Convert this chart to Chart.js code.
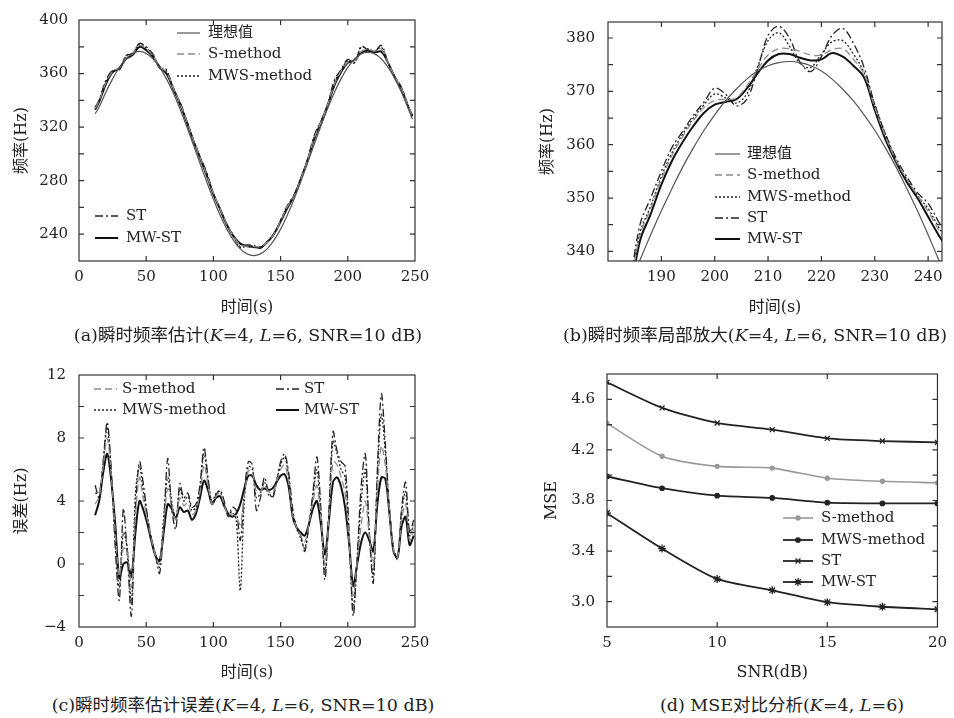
<!DOCTYPE html>
<html>
<head>
<meta charset="utf-8">
<script src="https://cdn.jsdelivr.net/npm/chart.js@4.4.1/dist/chart.umd.min.js"></script>
<style>
  body { margin: 0; background: #fff; width: 954px; height: 718px; position: relative; overflow: hidden;
         font-family: 'DejaVu Serif', 'Noto Sans CJK SC', serif; color: #222; }
  .panel { position: absolute; }
  .panel canvas { display: block; }
  .cap { position: absolute; font-size: 17.5px; white-space: nowrap; transform: translate(-50%, -50%); }
</style>
</head>
<body>
<div class="panel" style="left:0;top:0"><canvas id="cA" width="477" height="320"></canvas></div>
<div class="panel" style="left:477px;top:0"><canvas id="cB" width="477" height="320"></canvas></div>
<div class="panel" style="left:0;top:340px"><canvas id="cC" width="477" height="345"></canvas></div>
<div class="panel" style="left:477px;top:340px"><canvas id="cD" width="477" height="345"></canvas></div>

<div class="cap" style="left:248px;top:333px">(a)瞬时频率估计(<i>K</i>=4, <i>L</i>=6, SNR=10 dB)</div>
<div class="cap" style="left:755px;top:333px">(b)瞬时频率局部放大(<i>K</i>=4, <i>L</i>=6, SNR=10 dB)</div>
<div class="cap" style="left:243px;top:703px">(c)瞬时频率估计误差(<i>K</i>=4, <i>L</i>=6, SNR=10 dB)</div>
<div class="cap" style="left:782px;top:703px">(d) MSE对比分析(<i>K</i>=4, <i>L</i>=6)</div>

<script>
// ---- (a) 瞬时频率估计 ----
const tA = [12,15,20,25,30,35,40,45,50,55,60,65,70,75,80,85,90,95,100,105,110,115,120,125,130,135,140,145,150,155,160,165,170,175,180,185,190,195,200,205,210,215,220,225,230,235,240,245,248];
const idealA = [330,335,346,356,364.5,371,375,376.5,375,371, 364.6,356.2,345.8,333.9,320.8,307,293,279.2,266.1,254.2, 243.8,235.4,229.1,225.3,224,225.3,229.1,235.4,243.8,254.2, 266.1,279.2,293,307,320.8,333.9,345.8,356.2,364.6,370.9, 374.7,375.8,374.7,370.9,364.6,356.2,345.8,333.9,326];
const sA = [334,339.5,353,361.5,364.5,371.5,375,381,378.5,373, 365,361,349.5,338,325,310.5,297.5,284.5,270.5,259, 247.5,238.6,232,231,231,230.5,234,240,250,260.5, 268.5,281,295.3,311.9,323.6,336.5,352,362,368.5,369.5, 376.5,378,376.8,378,368,357.5,348.5,335.5,328];
const mwsA = [334.5,340,354,362,363,373,375.5,382,379,374, 364.4,362,350,338.5,325,311,298,285.5,270,259, 247.6,238.7,230,231.5,231,230.8,234.5,239.7,250.5,261, 269,281,295.5,312.5,324,337,353.5,362.5,369.5,368, 379.5,378.5,377,379.5,368,357.5,349,335.5,328.5];
const stA = [335,340,355,362.5,362.5,373.5,375,382.5,380,374.5, 364,363,348,339,325.3,310.8,298,286.5,270,258.9, 247.5,239,230.6,232,231.5,229.5,234.6,239.6,250.3,261.2, 269.6,281,295.5,313.8,324.3,337,355,363,370.6,368, 380.5,377.5,376.5,381,368,358,349.5,336,329];
const mwstA = [333,339,352,361,364,371,374,380,377.5,372.5, 365,360,349,337.5,324.3,310,297,284,270,258.5, 247,238.4,233,231,230.5,230,233.9,240.2,249.4,259.5, 268.5,281.3,295,311,323.3,336,351.2,361.1,368,370, 375.8,377,376,376.3,368,357,348,335,328];

// ---- (b) 局部放大 ----
const tB = [184,186,188,190,192,194,196,198,200,202,204,206,208,210,212,214,216,218,220,222,224,226,228,230,232,234,236,238,240,242,243];
const idealB = [333.5,338.4,343.1,347.6,351.8,355.8,359.4,362.7,365.6,368.2,370.4,372.3,373.8,374.8,375.4,375.6,375.4,374.8,373.8,372.3,370.4,368.2,365.6,362.7,359.4,355.8,351.8,347.6,343.1,338.4,336.0];
const sB = [332,343,348,353.5,358,361.5,364.5,367,368.3,368.5,368.7,371,374,376.8,378,378,377.5,376.8,376.8,377.8,378,376,373.2,367,361.5,357,353.5,350.5,347.5,344,342.5];
const mwsB = [332,343.5,348.5,354,358.5,362,365,367.5,369.5,368.8,367.8,369.5,374.5,379.5,381,378.5,375.2,374.5,377,379.3,379.5,377,373.5,367.5,362,357,353.5,350.5,348,344.5,343];
const stB = [333,345,350,355,359.5,362.5,365.5,368,370.6,369.5,367.3,368.5,374,380.5,382.2,380,375.5,373.7,376.5,380.5,381.8,379,374.5,367.5,362,357.5,354,351,349,345.5,344];
const mwstB = [331,342,347,352.5,357,360.5,363.5,366,367.5,368,368.5,370.5,373.3,375.8,377,377,376.3,375.8,376,377.2,376.5,374.8,372.6,366.5,361,356.7,353,350,346.5,343,341.5];

// ---- (c) 误差 ----
const tC = [12,15,18,21,24,27,30,33,36,39,42,45,48,51,54,57,60,63,66,69,72,75,78,81,84,87,90,93,96,99,102,105,108,111,114,117,120,123,126,129,132,135,138,141,144,147,150,153,156,159,162,165,168,171,174,177,180,183,186,189,192,195,198,201,204,207,210,213,216,219,222,225,228,231,234,237,240,243,246,249];
const sC = [3.8,4.3,6.2,8.0,5.6,2.0,-0.8,1.0,0.8,-1.5, 3.0,5.5,4.0,2.8,1.5,0.5,0.0,2.5,4.8,3.8, 2.8,4.2,3.7,3.9,3.1,3.4,4.5,6.3,5.0,3.8, 4.3,4.5,3.8,3.1,3.2,3.0,2.5,4.3,5.9,5.8, 4.6,4.6,5.0,4.6,4.5,5.2,6.0,6.3,5.2,3.1, 2.3,1.8,1.4,2.5,3.9,5.0,2.8,0.0,3.0,6.5, 6.3,5.5,4.5,1.4,-2.0,0.2,2.5,4.0,1.8,0.0, 4.6,7.5,6.2,3.3,0.9,0.4,2.8,3.8,1.5,2.2];
const mwsC = [4.5,4.5,6.5,8.7,5.8,1.5,-1.5,2.0,1.0,-2.5, 4.5,6.2,4.5,3.0,1.6,0.6,-0.2,3.0,5.5,4.0, 2.8,4.8,4.0,4.3,3.4,3.6,4.8,7.0,5.3,3.9, 4.5,4.6,3.8,3.2,3.3,2.8,-1.7,4.0,6.2,6.0, 4.2,4.5,5.2,4.4,4.3,5.3,6.3,6.8,5.5,3.2, 2.4,1.6,1.0,2.4,4.2,6.0,3.0,-0.5,3.2,7.8, 7.0,6.0,5.5,1.5,-2.8,0.3,4.0,6.0,2.0,-0.8, 5.5,9.5,7.0,3.4,0.9,0.4,3.2,4.6,1.8,2.5];
const stC = [5.0,4.2,6.5,9.0,6.0,1.0,-2.3,3.5,0.5,-3.3, 3.5,6.5,5.0,3.0,1.5,0.5,-0.6,2.5,6.7,3.5, 2.2,5.1,4.2,4.5,3.6,3.8,5.0,7.4,5.5,3.8, 4.4,4.7,4.0,3.0,3.6,3.4,1.5,4.5,6.5,6.3, 3.4,4.2,5.5,4.6,4.2,5.2,6.5,7.0,5.8,3.5, 2.2,1.8,0.8,2.5,4.5,6.8,3.5,-1.0,3.5,8.4, 7.2,6.5,6.2,2.0,-3.3,0.5,5.0,7.0,2.0,-1.2, 6.0,10.8,7.5,3.5,1.0,0.3,3.5,5.2,2.0,2.8];
const mwstC = [3.1,4.0,5.8,7.0,5.3,2.5,-0.9,0.0,0.1,-0.8, 2.0,4.0,3.4,2.5,1.4,0.5,0.2,2.0,3.8,3.5, 2.9,3.6,3.3,3.4,2.8,3.2,4.2,5.3,4.7,3.8, 4.2,4.3,3.7,3.2,3.0,3.2,3.8,4.8,5.6,5.6, 5.0,4.7,4.8,4.7,4.8,5.2,5.6,5.7,4.9,3.0, 2.3,2.0,1.8,2.5,3.5,4.0,2.5,0.6,2.8,5.2, 5.5,4.9,3.6,1.3,-1.4,0.0,1.4,2.0,1.5,0.8, 3.8,5.5,5.4,3.2,0.8,0.4,2.4,3.0,1.2,1.8];

// ---- (d) MSE ----
const snr = [5, 7.5, 10, 12.5, 15, 17.5, 20];
const sMse = [4.41, 4.15, 4.07, 4.056, 3.976, 3.952, 3.94];
const mwsMse = [3.99, 3.897, 3.838, 3.82, 3.783, 3.777, 3.777];
const stMse = [4.734, 4.532, 4.413, 4.36, 4.291, 4.27, 4.26];
const mwstMse = [3.70, 3.42, 3.18, 3.09, 2.996, 2.96, 2.94];

const FONT = "'DejaVu Serif', 'Noto Sans CJK SC', serif";
Chart.defaults.font.family = FONT;
Chart.defaults.color = '#222';
Chart.defaults.animation = false;

function pts(xs, ys) { return xs.map((x, i) => ({ x: x, y: ys[i] })); }
function isMult(v, m) { const r = v / m; return Math.abs(r - Math.round(r)) < 1e-6; }

// estilos de línea
const sty = {
  ideal: { borderColor: '#555', borderWidth: 1.2 },
  s:     { borderColor: '#8c8c8c', borderWidth: 1.3, borderDash: [7, 4] },
  mws:   { borderColor: '#222', borderWidth: 1.3, borderDash: [2, 2] },
  st:    { borderColor: '#222', borderWidth: 1.3, borderDash: [8, 3, 2, 3] },
  mwst:  { borderColor: '#111', borderWidth: 2 }
};

function ds(label, xs, ys, style, extra) {
  return Object.assign({ label: label, data: pts(xs, ys), pointRadius: 0, tension: 0.35, fill: false }, style, extra || {});
}

// marco + marcas de escala hacia dentro
const frame = {
  id: 'frame',
  afterDraw(chart) {
    const { ctx, chartArea: a } = chart;
    const len = 5;
    ctx.save();
    ctx.strokeStyle = '#333';
    ctx.lineWidth = 1.2;
    ctx.setLineDash([]);
    ctx.strokeRect(a.left, a.top, a.right - a.left, a.bottom - a.top);
    ['x', 'y'].forEach(id => {
      const s = chart.scales[id];
      const step = s.options.ticks.stepSize;
      s.ticks.forEach(t => {
        if (!isMult(t.value, step)) return;
        const p = s.getPixelForValue(t.value);
        ctx.beginPath();
        if (id === 'x') {
          if (p <= a.left + 1 || p >= a.right - 1) return;
          ctx.moveTo(p, a.bottom); ctx.lineTo(p, a.bottom - len);
          ctx.moveTo(p, a.top); ctx.lineTo(p, a.top + len);
        } else {
          if (p <= a.top + 1 || p >= a.bottom - 1) return;
          ctx.moveTo(a.left, p); ctx.lineTo(a.left + len, p);
          ctx.moveTo(a.right, p); ctx.lineTo(a.right - len, p);
        }
        ctx.stroke();
      });
    });
    ctx.restore();
  }
};

// leyenda dentro del área del gráfico
const insideLegend = {
  id: 'insideLegend',
  afterDraw(chart, args, opts) {
    if (!opts || !opts.items) return;
    const ctx = chart.ctx;
    ctx.save();
    opts.items.forEach(it => {
      const d = chart.data.datasets[it.i];
      ctx.strokeStyle = d.borderColor;
      ctx.lineWidth = d.borderWidth;
      ctx.setLineDash(d.borderDash || []);
      ctx.beginPath();
      ctx.moveTo(it.x, it.y);
      ctx.lineTo(it.x + opts.len, it.y);
      ctx.stroke();
      ctx.setLineDash([]);
      if (opts.points && d.pointStyle && Chart.helpers && Chart.helpers.drawPoint) {
        ctx.fillStyle = d.pointBackgroundColor || d.borderColor;
        ctx.strokeStyle = d.pointBorderColor || d.borderColor;
        ctx.lineWidth = 1.3;
        Chart.helpers.drawPoint(ctx, { pointStyle: d.pointStyle, radius: d.pointRadius, rotation: 0, borderWidth: 1.3 },
          it.x + opts.len / 2, it.y);
      }
      ctx.fillStyle = '#222';
      ctx.font = opts.font;
      ctx.textBaseline = 'middle';
      ctx.textAlign = 'left';
      ctx.fillText(d.label, it.x + opts.len + opts.gap, it.y);
    });
    ctx.restore();
  }
};
Chart.register(frame, insideLegend);

function xAxis(min, max, step, cb, height, title) {
  return {
    type: 'linear', min: min, max: max,
    grid: { display: false, drawTicks: false }, border: { display: false },
    ticks: { stepSize: step, autoSkip: false, includeBounds: false, maxRotation: 0, padding: 7, font: { size: 15 }, callback: cb },
    title: { display: true, text: title, font: { size: 16 }, padding: { top: 0, bottom: 3 } },
    afterFit(s) { s.height = height; }
  };
}
function yAxis(min, max, step, cb, width, pad, title, tpad) {
  return {
    type: 'linear', min: min, max: max,
    grid: { display: false, drawTicks: false }, border: { display: false },
    ticks: { stepSize: step, autoSkip: false, includeBounds: false, padding: pad, font: { size: 15 }, callback: cb },
    title: { display: true, text: title, font: { size: 16 }, padding: { top: tpad, bottom: 0 } },
    afterFit(s) { s.width = width; }
  };
}
function baseOpts(padding, scales, legend) {
  return {
    responsive: false,
    layout: { padding: padding },
    scales: scales,
    plugins: { legend: { display: false }, tooltip: { enabled: false }, insideLegend: legend }
  };
}

// (a)
new Chart(document.getElementById('cA'), {
  type: 'line',
  data: { datasets: [
    ds('理想值', tA, idealA, sty.ideal),
    ds('S-method', tA, sA, sty.s),
    ds('MWS-method', tA, mwsA, sty.mws),
    ds('ST', tA, stA, sty.st),
    ds('MW-ST', tA, mwstA, sty.mwst)
  ] },
  options: baseOpts({ left: 0, right: 62, top: 13, bottom: 0 }, {
    x: xAxis(0, 250, 50, v => v, 59, '时间(s)'),
    y: yAxis(220, 400, 20, v => isMult(v - 240, 40) ? v : '', 79, 11, '频率(Hz)', 12)
  }, { len: 23, gap: 8, font: '15px ' + FONT, items: [
    { i: 0, x: 177, y: 33 }, { i: 1, x: 177, y: 54 }, { i: 2, x: 177, y: 76 },
    { i: 3, x: 95, y: 216 }, { i: 4, x: 95, y: 238 }
  ] })
});

// (b)
new Chart(document.getElementById('cB'), {
  type: 'line',
  data: { datasets: [
    ds('理想值', tB, idealB, sty.ideal),
    ds('S-method', tB, sB, sty.s),
    ds('MWS-method', tB, mwsB, sty.mws),
    ds('ST', tB, stB, sty.st),
    ds('MW-ST', tB, mwstB, sty.mwst)
  ] },
  options: baseOpts({ left: 50, right: 12, top: 12, bottom: 0 }, {
    x: xAxis(180, 242.6, 10, v => (isMult(v, 10) && v >= 190) ? v : '', 59, '时间(s)'),
    y: yAxis(338.2, 383, 5, v => (isMult(v, 10) && v >= 340) ? v : '', 81, 13, '频率(Hz)', 11)
  }, { len: 25, gap: 7, font: '15px ' + FONT, items: [
    { i: 0, x: 238, y: 154 }, { i: 1, x: 238, y: 175 }, { i: 2, x: 238, y: 197 },
    { i: 3, x: 238, y: 218 }, { i: 4, x: 238, y: 239 }
  ] })
});

// (c)
new Chart(document.getElementById('cC'), {
  type: 'line',
  data: { datasets: [
    ds('S-method', tC, sC, sty.s, { tension: 0.3 }),
    ds('MWS-method', tC, mwsC, sty.mws, { tension: 0.3 }),
    ds('ST', tC, stC, sty.st, { tension: 0.3 }),
    ds('MW-ST', tC, mwstC, sty.mwst, { tension: 0.3 })
  ] },
  options: baseOpts({ left: 0, right: 62, top: 35, bottom: 0 }, {
    x: xAxis(0, 250, 50, v => v, 58, '时间(s)'),
    y: yAxis(-4, 12, 2, v => isMult(v, 4) ? (v < 0 ? '\u2212' + Math.abs(v) : v) : '', 79, 13, '误差(Hz)', 12)
  }, { len: 23, gap: 5, font: '15px ' + FONT, items: [
    { i: 0, x: 94, y: 49 }, { i: 1, x: 94, y: 70 },
    { i: 2, x: 276, y: 49 }, { i: 3, x: 276, y: 70 }
  ] })
});

// (d)
const mk = (ps, r, color) => ({ pointStyle: ps, pointRadius: r, pointBorderColor: color, pointBackgroundColor: color, pointBorderWidth: 1.3, tension: 0.25 });
new Chart(document.getElementById('cD'), {
  type: 'line',
  data: { datasets: [
    ds('S-method', snr, sMse, { borderColor: '#999', borderWidth: 1.6 }, mk('circle', 2, '#999')),
    ds('MWS-method', snr, mwsMse, { borderColor: '#222', borderWidth: 1.8 }, mk('circle', 2.2, '#222')),
    ds('ST', snr, stMse, { borderColor: '#222', borderWidth: 1.8 }, mk('crossRot', 3.5, '#222')),
    ds('MW-ST', snr, mwstMse, { borderColor: '#222', borderWidth: 1.8 }, mk('star', 4, '#222'))
  ] },
  options: baseOpts({ left: 50, right: 12, top: 34, bottom: 0 }, {
    x: xAxis(5, 20, 5, v => isMult(v, 5) ? v : '', 58, 'SNR(dB)'),
    y: yAxis(2.8, 4.8, 0.2, v => isMult(v - 3.0, 0.4) ? v.toFixed(1) : '', 80, 12, 'MSE', 15)
  }, { len: 30, gap: 8, points: true, font: '15px ' + FONT, items: [
    { i: 0, x: 306, y: 178 }, { i: 1, x: 306, y: 200 }, { i: 2, x: 306, y: 221 }, { i: 3, x: 306, y: 242 }
  ] })
});
</script>
</body>
</html>
